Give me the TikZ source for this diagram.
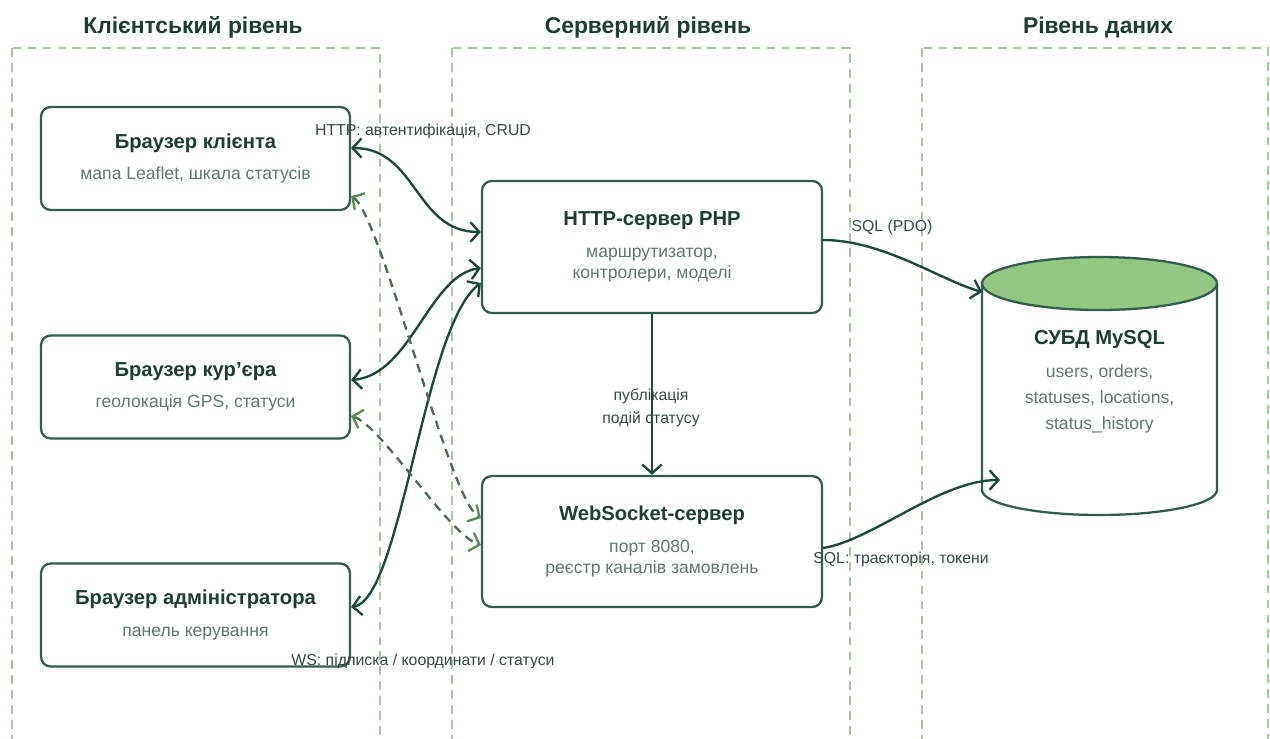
\documentclass[tikz,border=0pt]{standalone}
\usepackage{fontspec}
\setmainfont{Liberation Sans}
\usepackage{tikz}
\usetikzlibrary{arrows.meta,positioning,calc}
\definecolor{tierline}{RGB}{170,200,160}
\definecolor{boxline}{RGB}{52,92,78}
\definecolor{titletext}{RGB}{30,62,50}
\definecolor{subtext}{RGB}{96,122,106}
\definecolor{linkdark}{RGB}{28,74,58}
\definecolor{linkws}{RGB}{78,110,86}
\definecolor{wstip}{RGB}{88,142,82}
\definecolor{dbtop}{RGB}{148,198,132}
\definecolor{labeltext}{RGB}{52,74,66}

\begin{document}
\begin{tikzpicture}[x=0.02cm, y=-0.02cm,
    tier/.style={draw=tierline, line width=0.9pt, dash pattern=on 5pt off 3.5pt},
    tiername/.style={font=\fontsize{13}{15}\selectfont\bfseries, text=titletext},
    comp/.style={draw=boxline, line width=1.3pt, rounded corners=5.5pt, fill=white,
        align=center, inner sep=0pt, font=\fontsize{10}{12}\selectfont, text=subtext},
    link/.style={draw=linkdark, line width=1.35pt, {Straight Barb[length=5pt,width=11pt]}-{Straight Barb[length=5pt,width=11pt]}},
    wslink/.style={draw=linkws, line width=1.35pt, dash pattern=on 5pt off 3.5pt,
        {Straight Barb[length=5pt,width=11pt,color=wstip]}-{Straight Barb[length=5pt,width=11pt,color=wstip]}},
    sqllink/.style={draw=linkdark, line width=1.35pt, -{Straight Barb[length=5pt,width=11pt]}},
    lbl/.style={font=\fontsize{9}{13}\selectfont, text=labeltext, align=center, inner sep=1pt}]

    \useasboundingbox (0,0) rectangle (1270,738);

    % Tiers
    \draw[tier] (12,48) rectangle (380,760);
    \draw[tier] (452,48) rectangle (850,760);
    \draw[tier] (922,48) rectangle (1268,760);
    \node[tiername] (tclient) at (193,27) {Клієнтський рівень};
    \node[tiername] (tserver) at (648,27) {Серверний рівень};
    \node[tiername] (tdata) at (1098,27) {Рівень даних};

    % Browsers
    \node[comp, minimum width=6.18cm, minimum height=2.06cm] (client) at (195.5,158.5)
        {{\fontsize{11.5}{14}\selectfont\bfseries\color{titletext}Браузер клієнта}\\[6pt]мапа Leaflet, шкала статусів};
    \node[comp, minimum width=6.18cm, minimum height=2.06cm] (courier) at (195.5,387)
        {{\fontsize{11.5}{14}\selectfont\bfseries\color{titletext}Браузер кур'єра}\\[6pt]геолокація GPS, статуси};
    \node[comp, minimum width=6.18cm, minimum height=2.06cm] (admin) at (195.5,615)
        {{\fontsize{11.5}{14}\selectfont\bfseries\color{titletext}Браузер адміністратора}\\[6pt]панель керування};

    % Servers
    \node[comp, minimum width=6.8cm, minimum height=2.64cm] (http) at (652,247)
        {{\fontsize{11.5}{14}\selectfont\bfseries\color{titletext}HTTP-сервер PHP}\\[6pt]маршрутизатор,\\контролери, моделі};
    \node[comp, minimum width=6.8cm, minimum height=2.62cm] (ws) at (652,541.5)
        {{\fontsize{11.5}{14}\selectfont\bfseries\color{titletext}WebSocket-сервер}\\[6pt]порт 8080,\\реєстр каналів замовлень};

    % Database
    \fill[white] (982,283) -- (982,490) arc[start angle=180, end angle=360, x radius=2.35cm, y radius=0.5cm] -- (1217,283) -- cycle;
    \draw[boxline, line width=1.3pt] (982,283) -- (982,490)
        arc[start angle=180, end angle=360, x radius=2.35cm, y radius=0.5cm] -- (1217,283);
    \draw[boxline, line width=1.3pt, fill=dbtop] (1099.5,283.5) ellipse [x radius=2.35cm, y radius=0.53cm];
    \node[align=center, font=\fontsize{10}{14.7}\selectfont, text=subtext] (db) at (1099.5,382)
        {{\fontsize{11.5}{14}\selectfont\bfseries\color{titletext}СУБД MySQL}\\[4pt]users, orders,\\statuses, locations,\\status\_history};
    \coordinate (dbsql) at (982,292);
    \coordinate (dbtrack) at (1000,480);

    % HTTP links
    \draw[link] ($(client.east)+(0,-10.5)$) .. controls +(66,0) and +(-66,0) .. ($(http.west)+(0,-15)$);
    \draw[link] ($(courier.east)+(0,-7)$) .. controls +(60,-5) and +(-52,7) .. ($(http.west)+(0,21)$);
    \draw[link] ($(admin.east)+(0,-8)$) .. controls +(50,-7) and +(-57,42) .. ($(http.west)+(0,36)$);
    \node[lbl] (lhttp) at (423,131) {HTTP: автентифікація, CRUD};

    % WebSocket links
    \draw[wslink] ($(client.east)+(0,37.5)$) .. controls +(30,19) and +(-32,-18) .. ($(ws.west)+(0,-23.5)$);
    \draw[wslink] ($(courier.east)+(0,29)$) .. controls +(30,9) and +(-32,-10) .. ($(ws.west)+(0,3.5)$);
    \node[lbl] (lws) at (423,661) {WS: підписка / координати / статуси};

    % Events
    \draw[sqllink] (http.south) -- (ws.north);
    \node[lbl] (levent) at (651,408) {публікація\\подій статусу};

    % SQL
    \draw[sqllink] ($(http.east)+(0,-7)$) .. controls +(60,0) and +(-42,-12) .. (dbsql);
    \draw[sqllink] ($(ws.east)+(0,6.5)$) .. controls +(50,-8) and +(-60,0) .. (dbtrack);
    \node[lbl] (lpdo) at (892,227) {SQL (PDO)};
    \node[lbl] (ltrack) at (901,559) {SQL: траєкторія, токени};
\end{tikzpicture}
\end{document}
